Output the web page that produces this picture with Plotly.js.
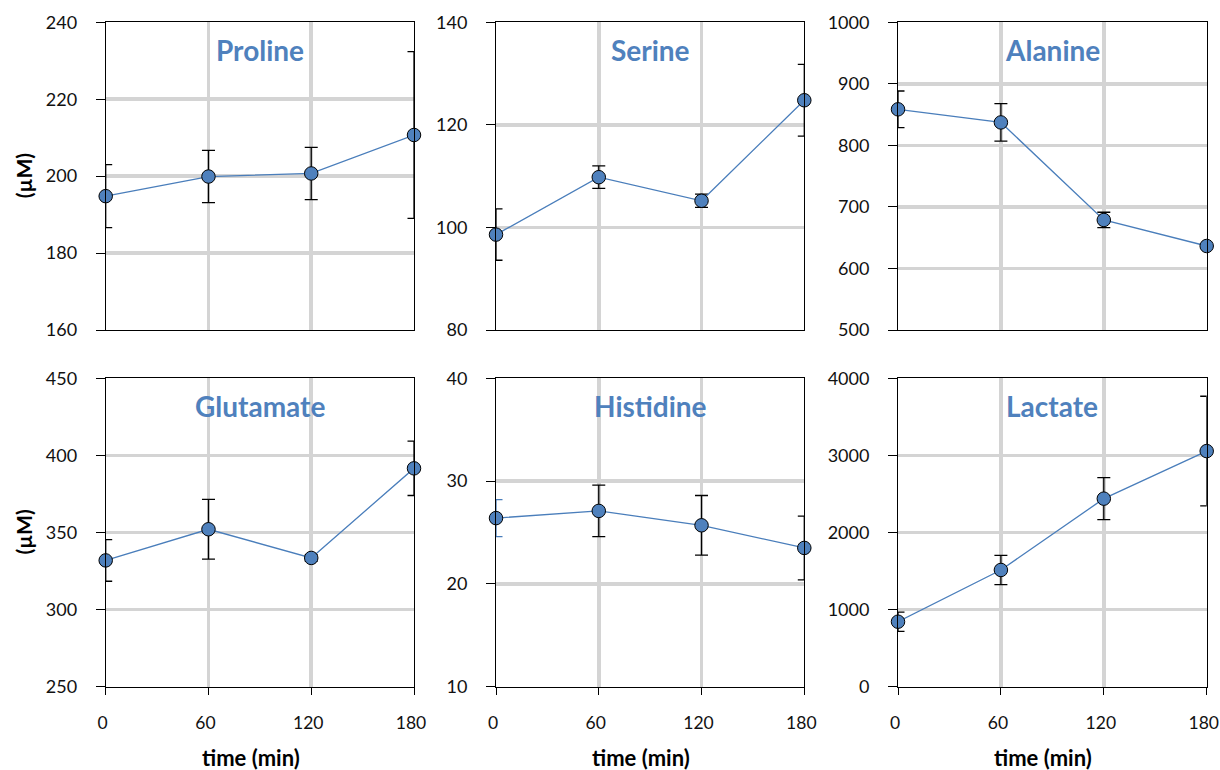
<!DOCTYPE html>
<html>
<head>
<meta charset="utf-8">
<script src="https://cdn.plot.ly/plotly-3.0.1.min.js"></script>
<style>html,body{margin:0;padding:0;background:#fff;}#chart{width:1220px;height:770px;}</style>
</head>
<body>
<div id="chart"></div>
<script>
// ---- data ----
const times = [0, 60, 120, 180];
const timeTickLabels = ['0', '60', '120', '180'];
const panelNames = ['Proline', 'Serine', 'Alanine', 'Glutamate', 'Histidine', 'Lactate'];

const prolineMean   = [194.8, 199.9, 200.7, 210.7];
const prolineErr    = [8.2, 6.8, 6.8, 21.7];
const serineMean    = [98.6, 109.8, 105.2, 124.8];
const serineErr     = [5.0, 2.2, 1.3, 7.0];
const alanineMean   = [858.6, 837.3, 678.8, 636.5];
const alanineErr    = [29.8, 30.4, 12.5, 4];
const glutamateMean = [331.9, 352.1, 333.5, 391.6];
const glutamateErr  = [13.5, 19.4, 2, 17.6];
const histidineMean = [26.4, 27.1, 25.7, 23.5];
const histidineErr  = [1.8, 2.5, 2.9, 3.1];
const lactateMean   = [843, 1514, 2439, 3056];
const lactateErr    = [125, 190, 273, 711];

const prolineRange = [160, 240],   prolineDtick = 20;
const serineRange = [80, 140],     serineDtick = 20;
const alanineRange = [500, 1000],  alanineDtick = 100;
const glutamateRange = [250, 450], glutamateDtick = 50;
const histidineRange = [10, 40],   histidineDtick = 10;
const lactateRange = [0, 4000],    lactateDtick = 1000;

// error bar colour: histidine t=0 bar is drawn in blue in the original
const histidineErrColor = ['#4a7ebb', '#000', '#000', '#000'];

const yTitle = '(µM)';
const xTitle = 'time (min)';

// ---- layout geometry ----
const W = 1220, H = 770;
const colX = [[105.7, 414.0], [496.0, 804.3], [898.0, 1206.7]];
const rowY = [[22.3, 330.0], [378.3, 686.7]];

const panels = [
  {name: panelNames[0], mean: prolineMean, err: prolineErr, range: prolineRange, dtick: prolineDtick},
  {name: panelNames[1], mean: serineMean, err: serineErr, range: serineRange, dtick: serineDtick},
  {name: panelNames[2], mean: alanineMean, err: alanineErr, range: alanineRange, dtick: alanineDtick},
  {name: panelNames[3], mean: glutamateMean, err: glutamateErr, range: glutamateRange, dtick: glutamateDtick},
  {name: panelNames[4], mean: histidineMean, err: histidineErr, range: histidineRange, dtick: histidineDtick, errColor: histidineErrColor},
  {name: panelNames[5], mean: lactateMean, err: lactateErr, range: lactateRange, dtick: lactateDtick}
];

const FONT = 'Lato, "Open Sans", "DejaVu Sans", sans-serif';
const BLUE = '#4f81bd';
const GRID = '#d4d4d4';

const traces = [];
const layout = {
  width: W, height: H,
  margin: {l: 0, r: 0, t: 0, b: 0},
  paper_bgcolor: '#fff', plot_bgcolor: '#fff',
  showlegend: false,
  font: {family: FONT, size: 18, color: '#111'},
  annotations: []
};

panels.forEach((p, i) => {
  const row = Math.floor(i / 3), col = i % 3;
  const n = i + 1;
  const xa = 'x' + (n === 1 ? '' : n), ya = 'y' + (n === 1 ? '' : n);
  const xKey = 'xaxis' + (n === 1 ? '' : n), yKey = 'yaxis' + (n === 1 ? '' : n);
  const [x0, x1] = colX[col], [y0, y1] = rowY[row];
  const bottom = row === 1;

  layout[xKey] = {
    domain: [x0 / W, x1 / W], anchor: ya,
    range: [0, 180], tickvals: times, ticktext: timeTickLabels,
    showticklabels: bottom, ticks: bottom ? 'outside' : '', ticklen: 7, tickcolor: '#000', tickwidth: 1,
    ticklabelstandoff: 13, ticklabeloverflow: 'allow', ticklabelshift: -3,
    showgrid: true, gridcolor: GRID, gridwidth: 3.5,
    showline: true, linecolor: '#000', linewidth: 1, mirror: true,
    zeroline: false, fixedrange: true,
    tickfont: {family: FONT, size: 17.5, color: '#111'}
  };
  layout[yKey] = {
    domain: [1 - y1 / H, 1 - y0 / H], anchor: xa,
    range: p.range, dtick: p.dtick, tick0: p.range[0],
    ticks: 'outside', ticklen: 9, tickcolor: '#000', tickwidth: 1,
    ticklabelstandoff: 15, ticklabeloverflow: 'allow',
    showgrid: true, gridcolor: GRID, gridwidth: 3.5,
    showline: true, linecolor: '#000', linewidth: 1, mirror: true,
    zeroline: false, fixedrange: true,
    tickfont: {family: FONT, size: 18, color: '#111'}
  };

  // error bars (one trace per point, so each can carry its own colour)
  p.mean.forEach((m, k) => {
    traces.push({
      type: 'scatter', mode: 'markers', x: [times[k]], y: [m],
      xaxis: xa, yaxis: ya, cliponaxis: false, hoverinfo: 'skip',
      marker: {size: 1, opacity: 0},
      error_y: {type: 'data', array: [p.err[k]], visible: true,
                color: p.errColor ? p.errColor[k] : '#000', thickness: 1.3, width: 6.5}
    });
  });

  // line + markers on top
  traces.push({
    type: 'scatter', mode: 'lines+markers', x: times, y: p.mean,
    xaxis: xa, yaxis: ya, cliponaxis: false, name: p.name,
    line: {color: '#4a7ebb', width: 1.3},
    marker: {size: 13.5, color: BLUE, line: {color: '#000', width: 1}}
  });

  // panel title
  layout.annotations.push({
    text: '<b>' + p.name + '</b>', xref: xa + ' domain', yref: 'paper',
    x: 0.5, y: 1 - (y0 + 28) / H, xanchor: 'center', yanchor: 'middle',
    showarrow: false, font: {family: FONT, size: 28, color: BLUE}
  });

  // y-axis title on left column
  if (col === 0) {
    layout.annotations.push({
      text: '<b>' + yTitle + '</b>', xref: 'paper', yref: 'paper',
      x: 23 / W, y: 1 - ((y0 + y1) / 2) / H, xanchor: 'center', yanchor: 'middle',
      textangle: -90, showarrow: false, font: {family: FONT, size: 21, color: '#000'}
    });
  }
  // x-axis title on bottom row
  if (bottom) {
    layout.annotations.push({
      text: '<b>' + xTitle + '</b>', xref: 'paper', yref: 'paper',
      x: ((x0 + x1) / 2 - 9) / W, y: 1 - 757 / H, xanchor: 'center', yanchor: 'middle',
      showarrow: false, font: {family: FONT, size: 22, color: '#000'}
    });
  }
});

Plotly.newPlot('chart', traces, layout, {staticPlot: true, displayModeBar: false});
</script>
</body>
</html>
